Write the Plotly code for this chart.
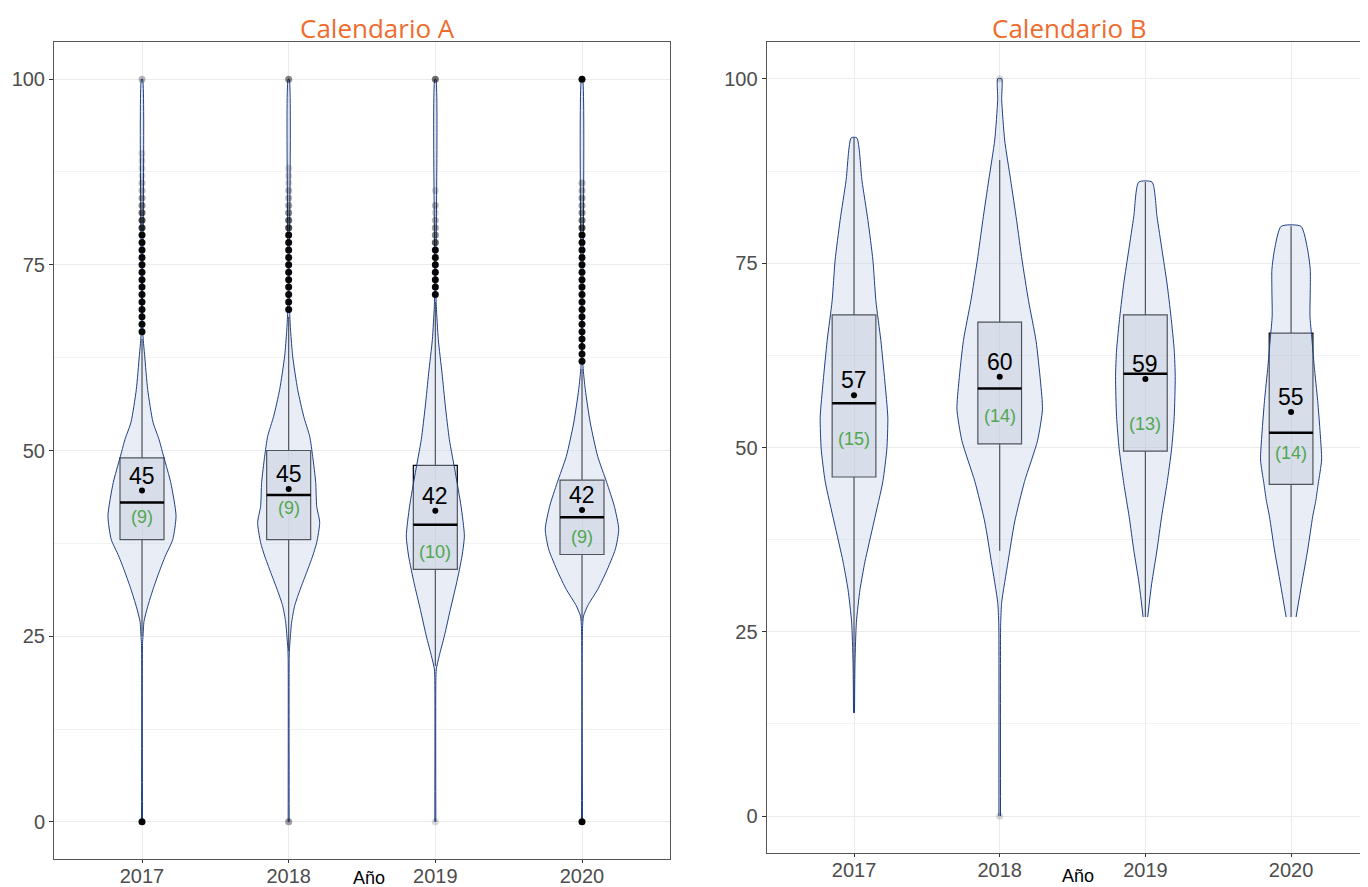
import plotly.graph_objects as go

# años (categorias del eje x)
anios = [2017, 2018, 2019, 2020]

# ---- Calendario A: resumen de cajas ----
q1_A = [38, 38, 34, 36]
mediana_A = [43, 44, 40, 41]
q3_A = [49, 50, 48, 46]
bigote_inf_A = [25, 23, 21, 27]
bigote_sup_A = [65, 68, 70, 61]
media_A = [44.6, 44.8, 41.9, 42.0]
desv_A = [9, 9, 10, 9]

# ---- Calendario B: resumen de cajas ----
q1_B = [46, 50.5, 49.5, 45]
mediana_B = [56, 58, 60, 52]
q3_B = [68, 67, 68, 65.5]
bigote_inf_B = [14, 36, 27, 27]
bigote_sup_B = [92, 89, 86, 80]
media_B = [57.1, 59.6, 59.3, 54.8]
desv_B = [15, 14, 13, 14]

# ---- densidades (violines): niveles y densidad relativa ----
niveles_A = [
    [0, 24, 25, 27, 29, 31.3, 33.6, 35.8, 38, 41.2, 45.7, 49, 51.5, 53.8, 58.2, 62.7, 65.4, 70, 100],
    [0, 22, 23.3, 24.6, 26.9, 29.1, 31.3, 33.6, 35.8, 37.6, 40.3, 42.5, 45.7, 49.2, 51.9, 54.6, 58.2, 62.7, 66, 68.5, 72, 100],
    [0, 19, 20.6, 22.4, 25, 28.6, 32.2, 35.8, 38.5, 42.5, 47, 51.5, 56, 60.4, 64.9, 69.4, 72, 100],
    [0, 26, 27.7, 29.1, 31.3, 33.6, 36.7, 39.4, 42.5, 45.7, 49.2, 53.7, 58.2, 61.3, 64, 100],
]
dens_A = [
    [0.5, 0.5, 1, 2, 5.7, 11, 17, 23.3, 30.7, 34, 28.7, 22, 17, 11, 5.7, 2.7, 1, 0.5, 0.5],
    [0.5, 0.5, 0.8, 1.5, 3, 6, 11.5, 18, 24, 28, 31, 28, 27, 24, 21, 15, 9, 4, 2, 1, 0.5, 0.5],
    [0.5, 0.5, 1, 4, 9, 15, 21.3, 26.7, 29, 25.7, 20, 14, 10, 6.7, 3, 1, 0.5, 0.5],
    [0.5, 0.5, 1.5, 5.7, 15.7, 24, 33.3, 36.7, 32.3, 24.7, 15.7, 8.3, 3.3, 1, 0.5, 0.5],
]
niveles_B = [
    [14, 20.9, 26.3, 30.7, 34.5, 39.9, 45.4, 49.8, 54.1, 59.0, 64.5, 69.9, 75.4, 80.8, 86.2, 92],
    [0, 24, 26.3, 29, 34.5, 39.9, 45.4, 50.9, 55.2, 59, 64.5, 69.9, 75.4, 80.8, 86.3, 91.7, 97.2, 100],
    [27, 31.5, 36.1, 40.6, 45.1, 49.7, 54.2, 59.6, 63.2, 67.8, 72.3, 76.8, 81.3, 86],
    [27, 31.5, 36.1, 40.6, 42.9, 45.1, 48.3, 51.9, 56.4, 61, 65.1, 67.8, 71.4, 74.1, 76.8, 80],
]
dens_B = [
    [0.5, 1, 2.4, 6, 11, 20, 29, 33, 34, 31, 27, 22, 19, 14, 8, 2.8],
    [0.8, 0.8, 1, 2, 8.4, 15, 25, 38, 43, 41, 36.5, 29, 22.5, 17, 11, 5, 2, 2],
    [2.3, 6.3, 11.7, 16.3, 21.7, 26.3, 29, 30, 29, 25.7, 21.7, 16.7, 11.7, 6.7],
    [5, 10.7, 16.7, 21.7, 25, 27.3, 30.7, 29.3, 26.7, 23.3, 20.7, 19, 19.3, 19.3, 16.7, 10],
]

# ---- valores atipicos y cuantas veces aparecen ----
atipicos_A = [
    [0, 66, 67, 68, 69, 70, 71, 72, 73, 74, 75, 76, 77, 78, 79, 80, 81, 82, 83, 84, 85, 86, 87, 88, 89, 90, 100],
    [0, 69, 70, 71, 72, 73, 74, 75, 76, 77, 78, 79, 80, 81, 82, 83, 84, 85, 86, 87, 88, 100],
    [0, 71, 72, 73, 74, 75, 76, 77, 78, 79, 80, 81, 82, 83, 85, 100],
    [0, 62, 63, 64, 65, 66, 67, 68, 69, 70, 71, 72, 73, 74, 75, 76, 77, 78, 79, 80, 81, 82, 83, 84, 85, 86, 100],
]
conteo_A = [
    [25, 20, 20, 20, 20, 20, 20, 20, 20, 20, 20, 20, 20, 20, 20, 10, 8, 6, 4, 3, 2, 2, 1, 1, 1, 1, 2],
    [3, 20, 20, 20, 20, 20, 20, 20, 20, 20, 20, 20, 8, 6, 4, 3, 2, 2, 1, 1, 1, 4],
    [1, 20, 20, 20, 20, 20, 20, 20, 6, 4, 3, 2, 1, 2, 1, 5],
    [30, 20, 20, 20, 20, 20, 20, 20, 20, 20, 20, 20, 20, 20, 20, 20, 20, 20, 20, 8, 5, 4, 3, 3, 2, 2, 30],
]
atipicos_B = [[], [0, 100], [], []]
conteo_B = [[], [1, 1], [], []]

# posicion vertical de la etiqueta de desviacion
pos_desv_A = [41.0, 42.3, 36.3, 38.3]
pos_desv_B = [51.2, 54.3, 53.2, 49.2]

# la pagina deja 8 px de margen en el body: se compensa
OFF = 8
W, H = 1368 - OFF, 887 - OFF
ESCALA = 1 / 146.5      # densidad relativa -> unidades de categoria
ANCHO_CAJA = 0.3
ALFA = 0.15


def px(x):
    return (x - OFF) / W


def py(y):
    return 1 - (y - OFF) / H


fig = go.Figure()


def panel(n, q1, med, q3, binf, bsup, media, desv, niveles, dens, atip, conteo, pos_desv):
    xr = "x" if n == 1 else "x%d" % n
    yr = "y" if n == 1 else "y%d" % n
    for i, a in enumerate(anios):
        xs = [a + d * ESCALA for d in dens[i]] + [a - d * ESCALA for d in dens[i][::-1]]
        ys = niveles[i] + niveles[i][::-1]
        fig.add_trace(go.Scatter(x=xs, y=ys, mode="lines", fill="toself",
                                 fillcolor="rgba(200,210,230,0.4)",
                                 line=dict(color="#1F3F86", width=1, shape="spline", smoothing=0.6),
                                 hoverinfo="skip", xaxis=xr, yaxis=yr))
    fig.add_trace(go.Box(x=anios, q1=q1, median=med, q3=q3, lowerfence=binf, upperfence=bsup,
                         width=ANCHO_CAJA, whiskerwidth=0, boxpoints=False,
                         fillcolor="rgba(160,170,190,0.3)", line=dict(color="black", width=1.2),
                         hoverinfo="skip", xaxis=xr, yaxis=yr))
    for i, a in enumerate(anios):
        fig.add_trace(go.Scatter(x=[a - ANCHO_CAJA / 2, a + ANCHO_CAJA / 2], y=[med[i], med[i]],
                                 mode="lines", line=dict(color="black", width=2.5),
                                 hoverinfo="skip", xaxis=xr, yaxis=yr))
    # atipicos
    ox, oy, op = [], [], []
    for i, a in enumerate(anios):
        for v, c in zip(atip[i], conteo[i]):
            ox.append(a)
            oy.append(v)
            op.append(1 - (1 - ALFA) ** c)
    if ox:
        fig.add_trace(go.Scatter(x=ox, y=oy, mode="markers",
                                 marker=dict(color="black", size=7, opacity=op),
                                 hoverinfo="skip", xaxis=xr, yaxis=yr))
    fig.add_trace(go.Scatter(x=anios, y=media, mode="markers",
                             marker=dict(color="black", size=6),
                             hoverinfo="skip", xaxis=xr, yaxis=yr))
    for i, a in enumerate(anios):
        fig.add_annotation(x=a, y=media[i], xref=xr, yref=yr, text=str(round(media[i])),
                           showarrow=False, yanchor="bottom", yshift=0,
                           font=dict(family="Liberation Sans, Arial", size=23, color="black"))
        fig.add_annotation(x=a, y=pos_desv[i], xref=xr, yref=yr, text="(%d)" % desv[i],
                           showarrow=False, yanchor="middle",
                           font=dict(family="Liberation Sans, Arial", size=18, color="#4FA84F"))


panel(1, q1_A, mediana_A, q3_A, bigote_inf_A, bigote_sup_A, media_A, desv_A,
      niveles_A, dens_A, atipicos_A, conteo_A, pos_desv_A)
panel(2, q1_B, mediana_B, q3_B, bigote_inf_B, bigote_sup_B, media_B, desv_B,
      niveles_B, dens_B, atipicos_B, conteo_B, pos_desv_B)

tick_font = dict(family="Liberation Sans, Arial", size=20, color="#4D4D4D")
eje_x = dict(tickvals=anios, ticktext=[str(a) for a in anios], tickfont=tick_font,
             showgrid=True, gridcolor="#EBEBEB", gridwidth=1, zeroline=False,
             ticks="outside", ticklen=3, tickcolor="#333333", automargin=False,
             ticklabelstandoff=-4,
             showline=True, linecolor="#555555", linewidth=1, mirror=True)
eje_y = dict(tickvals=[0, 25, 50, 75, 100], tickfont=tick_font, automargin=False,
             showgrid=True, gridcolor="#EBEBEB", gridwidth=1, zeroline=False,
             ticks="outside", ticklen=4, tickcolor="#333333",
             minor=dict(tickvals=[12.5, 37.5, 62.5, 87.5], showgrid=True, gridcolor="#F2F2F2", ticks=""),
             showline=True, linecolor="#555555", linewidth=1, range=[-5, 105])

fig.update_layout(
    width=W, height=H, margin=dict(l=0, r=0, t=0, b=0, autoexpand=False),
    plot_bgcolor="white", paper_bgcolor="white", showlegend=False,
    xaxis=dict(eje_x, domain=[px(54), px(670)], range=[2016.4, 2020.6], anchor="y"),
    yaxis=dict(eje_y, domain=[py(859), py(42)], anchor="x", mirror=True),
    xaxis2=dict(eje_x, domain=[px(766.6), 1.0], range=[2016.4, 2020.528], anchor="y2"),
    yaxis2=dict(eje_y, domain=[py(853), py(42)], anchor="x2", mirror=False),
)

titulo_font = dict(family="Open Sans, Lato", size=26, color="#EE6C2E")
fig.add_annotation(x=px(378), y=1.0, xref="paper", yref="paper", text="Calendario A",
                   showarrow=False, font=titulo_font, xanchor="center", yanchor="top")
fig.add_annotation(x=px(1069), y=1.0, xref="paper", yref="paper", text="Calendario B",
                   showarrow=False, font=titulo_font, xanchor="center", yanchor="top")
eje_font = dict(family="Liberation Sans, Arial", size=18, color="black")
fig.add_annotation(x=px(369), y=py(878), xref="paper", yref="paper", text="Año",
                   showarrow=False, font=eje_font, xanchor="center", yanchor="middle")
fig.add_annotation(x=px(1078), y=py(876), xref="paper", yref="paper", text="Año",
                   showarrow=False, font=eje_font, xanchor="center", yanchor="middle")

fig.write_html("out.html")
